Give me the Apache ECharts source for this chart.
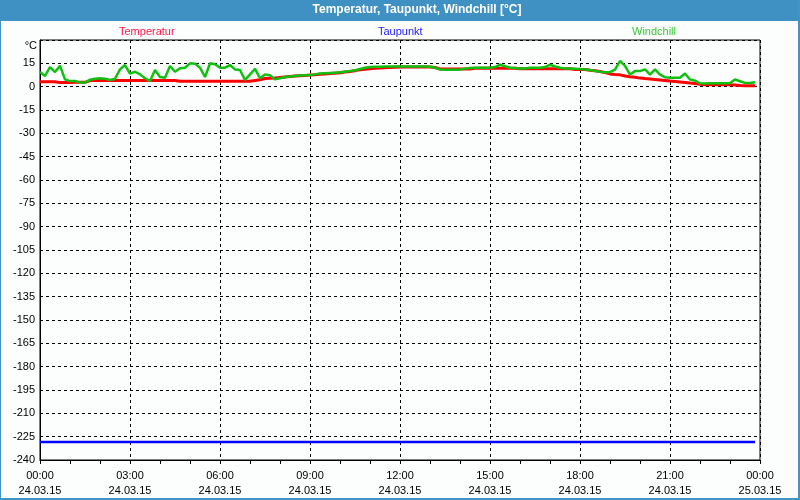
<!DOCTYPE html>
<html>
<head>
<meta charset="utf-8">
<script src="https://cdn.jsdelivr.net/npm/echarts@6/dist/echarts.min.js"></script>
<style>
  html, body { margin: 0; padding: 0; background: #fcfefe; }
  #chart { width: 800px; height: 500px; }
</style>
</head>
<body>
<div id="chart"></div>
<script>
// Messwerte alle 10 Minuten, 24.03.15 00:00 bis 23:50
const startTime = '24.03.15';
const stepMinutes = 10;

const temperatur = [
  3.2, 3.2, 3.2, 3.2, 2.6, 2.6, 2.6, 2.8, 2.8, 2.8, 3.9, 3.9,
  3.9, 3.9, 3.9, 3.9, 3.9, 3.9, 3.9, 3.9, 3.9, 3.9, 3.9, 3.9,
  3.9, 3.9, 3.9, 3.9, 3.5, 3.5, 3.5, 3.5, 3.5, 3.5, 3.5, 3.5,
  3.5, 3.5, 3.5, 3.5, 3.5, 3.5, 3.5, 4.0, 4.5, 5.2, 5.4, 5.6,
  5.9, 6.2, 6.5, 6.8, 7.0, 7.2, 7.5, 7.7, 8.0, 8.2, 8.4, 8.7,
  9.0, 9.4, 9.8, 10.3, 10.9, 11.2, 11.5, 11.8, 12.0, 12.2, 12.4, 12.5,
  12.6, 12.6, 12.6, 12.6, 12.6, 12.6, 12.6, 12.3, 11.4, 11.4, 11.4, 11.4,
  11.4, 11.4, 11.4, 11.8, 11.8, 11.8, 11.8, 11.8, 11.8, 11.8, 11.8, 11.8,
  11.5, 11.5, 11.5, 11.5, 11.5, 11.5, 11.5, 11.5, 11.5, 11.5, 11.5, 11.1,
  11.1, 11.1, 10.6, 10.2, 9.8, 9.0, 8.2, 7.8, 7.6, 6.9, 6.4, 6.0,
  5.5, 5.2, 5.0, 4.6, 4.3, 4.0, 3.6, 3.3, 3.0, 2.7, 2.3, 2.0,
  1.6, 1.3, 1.3, 1.3, 1.3, 1.3, 1.3, 1.0, 0.7, 0.6, 0.6, 0.6
];

const taupunkt = [
  -228.5, -228.5, -228.5, -228.5, -228.5, -228.5, -228.5, -228.5, -228.5, -228.5, -228.5, -228.5,
  -228.5, -228.5, -228.5, -228.5, -228.5, -228.5, -228.5, -228.5, -228.5, -228.5, -228.5, -228.5,
  -228.5, -228.5, -228.5, -228.5, -228.5, -228.5, -228.5, -228.5, -228.5, -228.5, -228.5, -228.5,
  -228.5, -228.5, -228.5, -228.5, -228.5, -228.5, -228.5, -228.5, -228.5, -228.5, -228.5, -228.5,
  -228.5, -228.5, -228.5, -228.5, -228.5, -228.5, -228.5, -228.5, -228.5, -228.5, -228.5, -228.5,
  -228.5, -228.5, -228.5, -228.5, -228.5, -228.5, -228.5, -228.5, -228.5, -228.5, -228.5, -228.5,
  -228.5, -228.5, -228.5, -228.5, -228.5, -228.5, -228.5, -228.5, -228.5, -228.5, -228.5, -228.5,
  -228.5, -228.5, -228.5, -228.5, -228.5, -228.5, -228.5, -228.5, -228.5, -228.5, -228.5, -228.5,
  -228.5, -228.5, -228.5, -228.5, -228.5, -228.5, -228.5, -228.5, -228.5, -228.5, -228.5, -228.5,
  -228.5, -228.5, -228.5, -228.5, -228.5, -228.5, -228.5, -228.5, -228.5, -228.5, -228.5, -228.5,
  -228.5, -228.5, -228.5, -228.5, -228.5, -228.5, -228.5, -228.5, -228.5, -228.5, -228.5, -228.5,
  -228.5, -228.5, -228.5, -228.5, -228.5, -228.5, -228.5, -228.5, -228.5, -228.5, -228.5, -228.5
];

const windchill = [
  9.4, 6.9, 12.6, 9.4, 13.5, 4.7, 3.6, 3.6, 2.6, 2.6, 4.5, 5.1,
  5.4, 5.1, 4.3, 5.1, 11.1, 13.9, 8.4, 9.6, 7.9, 5.4, 3.6, 10.7,
  6.2, 5.8, 13.3, 9.6, 11.8, 12.2, 15.0, 14.8, 12.2, 6.2, 15.0, 14.4,
  12.2, 12.2, 13.9, 11.1, 10.7, 4.3, 7.9, 11.4, 5.4, 7.9, 7.4, 4.7,
  5.4, 6.2, 6.6, 6.9, 7.1, 7.3, 7.5, 7.9, 8.4, 8.6, 8.8, 9.0,
  9.2, 9.6, 10.0, 10.5, 11.4, 12.2, 12.6, 12.8, 12.8, 12.9, 12.9, 12.9,
  12.9, 12.9, 12.9, 12.9, 12.9, 12.9, 12.8, 12.2, 11.1, 10.9, 10.9, 10.9,
  11.1, 11.6, 12.0, 12.2, 12.2, 12.2, 12.2, 12.6, 14.1, 13.1, 12.2, 12.0,
  11.7, 11.7, 12.2, 12.2, 12.2, 12.6, 14.1, 13.0, 12.2, 11.7, 11.7, 11.5,
  11.3, 11.1, 10.7, 10.0, 9.6, 9.3, 9.3, 10.9, 16.5, 13.3, 7.8, 10.0,
  10.0, 11.1, 7.8, 11.1, 7.8, 6.1, 5.7, 5.7, 5.7, 8.5, 4.6, 3.9,
  2.2, 2.0, 2.2, 2.2, 2.2, 2.2, 2.4, 4.6, 3.5, 2.4, 2.4, 2.8
];

const timeLabels = ['00:00', '03:00', '06:00', '09:00', '12:00', '15:00', '18:00', '21:00', '00:00'];
const dateLabels = ['24.03.15', '24.03.15', '24.03.15', '24.03.15', '24.03.15', '24.03.15', '24.03.15', '24.03.15', '25.03.15'];

const font = 'Liberation Sans';

// x in Minuten seit 00:00
const withTime = (values) => values.map((v, i) => [i * stepMinutes, v]);

const chart = echarts.init(document.getElementById('chart'), null, { renderer: 'canvas' });

const legendAt = (name, left, color) => ({
  data: [name],
  left: left,
  top: 25,
  padding: 0,
  itemWidth: 0,
  itemGap: 0,
  icon: 'none',
  selectedMode: false,
  textStyle: { color: color, fontFamily: font, fontSize: 11 }
});

const option = {
  animation: false,
  backgroundColor: '#fcfefe',
  textStyle: { fontFamily: font },
  graphic: [
    // Rahmen
    { type: 'rect', shape: { x: 0.5, y: 0.5, width: 798, height: 498 }, style: { fill: 'none', stroke: '#4393c4', lineWidth: 1 }, silent: true },
    { type: 'rect', shape: { x: 0, y: 0, width: 800, height: 21 }, style: { fill: '#3f91c3' }, silent: true },
    { type: 'rect', shape: { x: 798, y: 0, width: 2, height: 500 }, style: { fill: '#4393c4' }, silent: true },
    { type: 'rect', shape: { x: 0, y: 498, width: 800, height: 2 }, style: { fill: '#4393c4' }, silent: true },
    {
      type: 'text', x: 417, y: 10,
      style: {
        text: 'Temperatur, Taupunkt, Windchill [°C]',
        fill: '#ffffff', font: 'bold 12px "Liberation Sans"',
        align: 'center', verticalAlign: 'middle'
      }
    },
    {
      type: 'text', x: 37, y: 46,
      style: { text: '°C', fill: '#000', font: '11px "Liberation Sans"', align: 'right', verticalAlign: 'middle' }
    }
  ],
  legend: [
    legendAt('Temperatur', 114, '#ff1a40'),
    legendAt('Taupunkt', 373, '#2222ff'),
    legendAt('Windchill', 627, '#33cc33')
  ],
  grid: {
    left: 40, right: 40, top: 40, bottom: 40,
    show: true, borderColor: '#000', borderWidth: 1, backgroundColor: 'transparent'
  },
  xAxis: {
    type: 'value',
    min: 0,
    max: 1440,
    interval: 180,
    axisLine: { show: true, onZero: false, lineStyle: { color: '#000', width: 1 } },
    axisTick: { show: true, inside: false, length: 4, lineStyle: { color: '#000' } },
    minorTick: { show: true, splitNumber: 3, length: 4, lineStyle: { color: '#000' } },
    splitLine: { show: true, lineStyle: { color: '#000', type: [3, 3], width: 1 } },
    axisLabel: {
      color: '#000', fontSize: 11, fontFamily: font, lineHeight: 15, margin: 8,
      formatter: (v) => {
        const k = Math.round(v / 180);
        return timeLabels[k] + '\n' + dateLabels[k];
      }
    }
  },
  yAxis: {
    type: 'value',
    min: -240,
    max: 30,
    interval: 15,
    axisLine: { show: true, onZero: false, lineStyle: { color: '#000', width: 1 } },
    axisTick: { show: false },
    splitLine: { show: true, lineStyle: { color: '#000', type: [3, 3], width: 1 } },
    axisLabel: {
      color: '#000', fontSize: 11, fontFamily: font, margin: 5,
      formatter: (v) => (v === 30 ? '' : String(v))
    }
  },
  series: [
    {
      name: 'Temperatur', type: 'line', data: withTime(temperatur),
      showSymbol: false, color: '#ff0000', lineStyle: { width: 3, color: '#ff0000' }
    },
    {
      name: 'Taupunkt', type: 'line', data: withTime(taupunkt),
      showSymbol: false, color: '#0000ff', lineStyle: { width: 2.5, color: '#0000ff' }
    },
    {
      name: 'Windchill', type: 'line', data: withTime(windchill),
      showSymbol: false, color: '#10c010', lineStyle: { width: 2.5, color: '#10c010' }
    }
  ]
};

chart.setOption(option);
</script>
</body>
</html>
